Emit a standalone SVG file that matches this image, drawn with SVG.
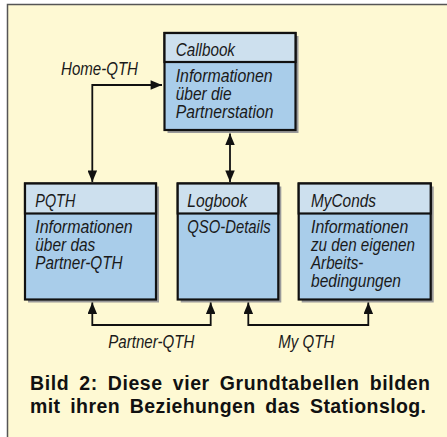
<svg xmlns="http://www.w3.org/2000/svg" width="447" height="437" viewBox="0 0 447 437">
<defs>
<style>
.bg{fill:#FEF9D3;stroke:#555;stroke-width:1.5}
.sh{fill:#9a9a9a}
.hd{fill:#CDE0EE;stroke:#111;stroke-width:2.2}
.bd{fill:#A9CDEA;stroke:#111;stroke-width:2.2}
.t{font-family:"Liberation Sans",Arial,sans-serif;font-style:italic;font-size:17.5px;fill:#1a1a1a}
.cap{font-family:"Liberation Sans",Arial,sans-serif;font-weight:bold;font-size:19.5px;word-spacing:4px;fill:#111}
.ln{fill:none;stroke:#111;stroke-width:1.8}
</style>
<marker id="ah" viewBox="0 0 12 10" refX="12" refY="5" markerWidth="12" markerHeight="9.5" markerUnits="userSpaceOnUse" orient="auto-start-reverse">
<path d="M0,0 L12,5 L0,10 Z" fill="#111"/>
</marker>
</defs>
<rect class="bg" x="7.5" y="4.5" width="445" height="440"/>

<g id="callbook">
<rect class="sh" x="167.5" y="36" width="131" height="97"/>
<rect class="bd" x="164.5" y="33" width="131" height="97"/>
<rect class="hd" x="164.5" y="33" width="131" height="29"/>
<text class="t" x="175.7" y="55.7" textLength="59.3" lengthAdjust="spacingAndGlyphs">Callbook</text>
<text class="t" x="175.7" y="81.7" textLength="97" lengthAdjust="spacingAndGlyphs">Informationen</text>
<text class="t" x="175.7" y="100" textLength="56" lengthAdjust="spacingAndGlyphs">über die</text>
<text class="t" x="175.7" y="118.3" textLength="97.7" lengthAdjust="spacingAndGlyphs">Partnerstation</text>
</g>

<g id="pqth">
<rect class="sh" x="28" y="186.5" width="131" height="116"/>
<rect class="bd" x="25" y="183.5" width="131" height="116"/>
<rect class="hd" x="25" y="183.5" width="131" height="30"/>
<text class="t" x="35.3" y="206.7" textLength="40" lengthAdjust="spacingAndGlyphs">PQTH</text>
<text class="t" x="35.3" y="233.3" textLength="97.4" lengthAdjust="spacingAndGlyphs">Informationen</text>
<text class="t" x="35.3" y="251" textLength="60" lengthAdjust="spacingAndGlyphs">über das</text>
<text class="t" x="35.3" y="269.3" textLength="87.3" lengthAdjust="spacingAndGlyphs">Partner-QTH</text>
</g>

<g id="logbook">
<rect class="sh" x="180.7" y="186.5" width="100.6" height="116"/>
<rect class="bd" x="177.7" y="183.5" width="100.6" height="116"/>
<rect class="hd" x="177.7" y="183.5" width="100.6" height="30"/>
<text class="t" x="187.3" y="206.7" textLength="60" lengthAdjust="spacingAndGlyphs">Logbook</text>
<text class="t" x="187.3" y="233.3" textLength="83.3" lengthAdjust="spacingAndGlyphs">QSO-Details</text>
</g>

<g id="myconds">
<rect class="sh" x="301.7" y="186.5" width="132" height="116"/>
<rect class="bd" x="298.7" y="183.5" width="132" height="116"/>
<rect class="hd" x="298.7" y="183.5" width="132" height="30"/>
<text class="t" x="311" y="206.7" textLength="65" lengthAdjust="spacingAndGlyphs">MyConds</text>
<text class="t" x="311" y="233.3" textLength="97.3" lengthAdjust="spacingAndGlyphs">Informationen</text>
<text class="t" x="311" y="251" textLength="104" lengthAdjust="spacingAndGlyphs">zu den eigenen</text>
<text class="t" x="311" y="269.3" textLength="52.3" lengthAdjust="spacingAndGlyphs">Arbeits-</text>
<text class="t" x="311" y="287.3" textLength="90" lengthAdjust="spacingAndGlyphs">bedingungen</text>
</g>

<g id="connectors">
<path class="ln" d="M92.3,182 V85 H162" marker-start="url(#ah)" marker-end="url(#ah)"/>
<path class="ln" d="M230,133.5 V182" marker-start="url(#ah)" marker-end="url(#ah)"/>
<path class="ln" d="M92.3,302.5 V325 H210.7 V302.5" marker-start="url(#ah)" marker-end="url(#ah)"/>
<path class="ln" d="M248.3,302.5 V325 H368.3 V302.5" marker-start="url(#ah)" marker-end="url(#ah)"/>
<text class="t" x="61" y="75" textLength="77" lengthAdjust="spacingAndGlyphs">Home-QTH</text>
<text class="t" x="108.3" y="348.3" textLength="86" lengthAdjust="spacingAndGlyphs">Partner-QTH</text>
<text class="t" x="278.3" y="348.3" textLength="56" lengthAdjust="spacingAndGlyphs">My QTH</text>
</g>

<text class="cap" x="30" y="390" textLength="400" lengthAdjust="spacing">Bild 2: Diese vier Grundtabellen bilden</text>
<text class="cap" x="30" y="413.3" textLength="396" lengthAdjust="spacing">mit ihren Beziehungen das Stationslog.</text>
</svg>
